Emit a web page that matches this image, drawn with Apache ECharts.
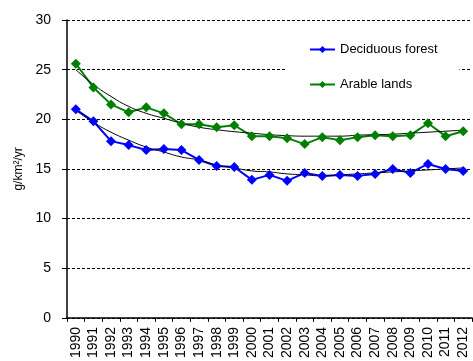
<!DOCTYPE html>
<html>
<head>
<meta charset="utf-8">
<script src="https://cdn.jsdelivr.net/npm/echarts@6/dist/echarts.min.js"></script>
<style>html,body{margin:0;padding:0;background:#fff}#c{width:473px;height:361px}</style>
</head>
<body>
<div id="c"></div>
<script>
var years = ['1990','1991','1992','1993','1994','1995','1996','1997','1998','1999','2000','2001','2002','2003','2004','2005','2006','2007','2008','2009','2010','2011','2012'];
var deciduous = [21.0,19.8,17.8,17.4,16.9,17.0,16.9,15.9,15.3,15.2,13.9,14.4,13.8,14.6,14.3,14.4,14.3,14.5,15.0,14.6,15.5,15.0,14.8];
var arable = [25.6,23.2,21.5,20.7,21.2,20.6,19.5,19.5,19.2,19.4,18.3,18.3,18.1,17.5,18.2,17.9,18.2,18.4,18.3,18.4,19.6,18.3,18.8];
var deciduousTrend = [20.9,19.7,18.7,17.9,17.2,16.7,16.2,15.9,15.4,15.1,14.8,14.7,14.5,14.4,14.3,14.4,14.5,14.6,14.7,14.8,14.9,15.0,15.1];
var arableTrend = [25.0,23.5,22.3,21.3,20.6,20.1,19.6,19.2,18.95,18.75,18.6,18.45,18.35,18.3,18.3,18.3,18.4,18.45,18.5,18.6,18.7,18.8,18.9];
var yTicks = [0,5,10,15,20,25,30];

var font = 'Arial, "Liberation Sans", sans-serif';
var chart = echarts.init(document.getElementById('c'));
chart.setOption({
  animation: false,
  textStyle: {fontFamily: font, color: '#000'},
  grid: {left: 67, right: 1, top: 20, bottom: 41},
  legend: {
    data: ['Deciduous forest', 'Arable lands'],
    orient: 'vertical',
    left: 285, top: 39,
    padding: [4, 22, 4, 24],
    backgroundColor: '#fff',
    itemWidth: 25, itemHeight: 9,
    itemGap: 22,
    textStyle: {fontFamily: font, fontSize: 13, color: '#000'}
  },
  xAxis: {
    type: 'category',
    data: years,
    boundaryGap: true,
    axisLine: {lineStyle: {color: '#000', width: 1.5}},
    axisTick: {show: true, length: 4, interval: 0, lineStyle: {color: '#000'}},
    axisLabel: {rotate: 90, interval: 0, fontSize: 14, color: '#000', margin: 9, fontFamily: font}
  },
  yAxis: {
    type: 'value',
    min: yTicks[0], max: yTicks[yTicks.length - 1], interval: 5,
    name: 'g/km\u00b2/yr',
    nameLocation: 'middle',
    nameRotate: 90,
    nameGap: 40,
    nameTextStyle: {fontSize: 12, color: '#000', fontFamily: font},
    axisLine: {show: true, lineStyle: {color: '#000', width: 1.5}},
    axisTick: {show: true, length: 5, lineStyle: {color: '#000'}},
    axisLabel: {fontSize: 14, color: '#000', margin: 16, fontFamily: font},
    splitLine: {show: true, lineStyle: {color: '#000', type: [3, 2], width: 1}}
  },
  series: [
    {name: 'Deciduous forest', type: 'line', data: deciduous, symbol: 'diamond', symbolSize: 10,
     itemStyle: {color: '#0000ff'}, lineStyle: {color: '#0000ff', width: 2}},
    {name: 'Arable lands', type: 'line', data: arable, symbol: 'diamond', symbolSize: 10,
     itemStyle: {color: '#008000'}, lineStyle: {color: '#008000', width: 2}},
    {name: 'trendD', type: 'line', data: deciduousTrend, smooth: true, showSymbol: false, symbol: 'none', silent: true,
     lineStyle: {color: '#000', width: 1}},
    {name: 'trendA', type: 'line', data: arableTrend, smooth: true, showSymbol: false, symbol: 'none', silent: true,
     lineStyle: {color: '#000', width: 1}}
  ]
});
</script>
</body>
</html>
